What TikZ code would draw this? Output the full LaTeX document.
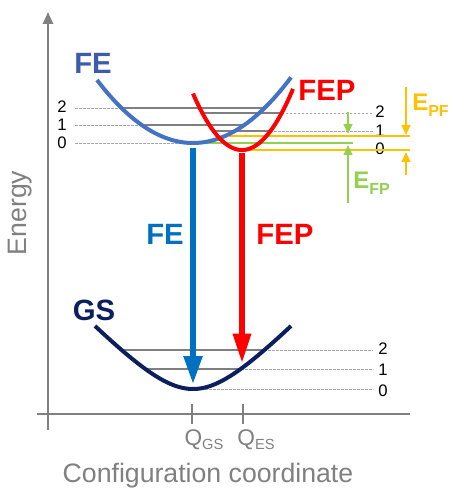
\documentclass[tikz,border=0pt]{standalone}
\usepackage{fontspec}
\setmainfont{Liberation Sans}
\usetikzlibrary{arrows.meta}
\definecolor{feblue}{HTML}{4472C4}
\definecolor{fetext}{HTML}{3C5DAA}
\definecolor{trblue}{HTML}{0070C0}
\definecolor{gsnavy}{HTML}{0B1F5E}
\definecolor{axgray}{HTML}{808080}
\definecolor{lvgray}{HTML}{7F7F7F}
\definecolor{dashgray}{HTML}{A6A6A6}
\definecolor{eorange}{HTML}{FFC000}
\definecolor{egreen}{HTML}{92D050}
\tikzset{
  axisline/.style={draw=axgray, line width=1.9pt},
  levelline/.style={draw=lvgray, line width=1.5pt},
  dashline/.style={draw=dashgray, line width=0.6pt, dash pattern=on 2pt off 1pt},
  curveline/.style={line width=3pt},
  lvlabel/.style={font=\fontsize{12.5}{12.5}\selectfont, text=black, inner sep=0pt},
  bigtext/.style={font=\fontsize{22}{22}\selectfont\bfseries, inner sep=0pt},
  bigarrow/.style={line width=4pt, -{Triangle[length=21pt,width=13.5pt]}},
  smallarrow/.style={line width=1.5pt, -{Triangle[length=7.5pt,width=6.5pt]}},
  axlabel/.style={font=\fontsize{20}{20}\selectfont, text=axgray, inner sep=0pt}
}
\begin{document}
\begin{tikzpicture}[x=0.75pt,y=-0.75pt]
\useasboundingbox (0,0) rectangle (452,488);

% axes
\coordinate (ybot) at (48,430);
\coordinate (ytop) at (48,12);
\coordinate (xl) at (37,414);
\coordinate (xr) at (410,414);
\draw[axisline, -{Triangle[length=9pt,width=7.5pt]}] (ybot) -- (ytop);
\draw[axisline] (xl) -- (xr);
\coordinate (tg1) at (192,404); \coordinate (tg2) at (192,424);
\coordinate (te1) at (243,404); \coordinate (te2) at (243,424);
\draw[axisline, line width=1.2pt] (tg1) -- (tg2);
\draw[axisline, line width=1.2pt] (te1) -- (te2);

% FE levels (left)
\draw[dashline] (75,108) -- (121.5,108);
\draw[dashline] (75,125) -- (141.7,125);
\draw[dashline] (75,143) -- (193,143);
\draw[levelline] (121.5,108) -- (264.5,108);
\draw[levelline] (141.7,125) -- (244.3,125);
\node[lvlabel] (l2) at (62,107) {2};
\node[lvlabel] (l1) at (62,125) {1};
\node[lvlabel] (l0) at (62,143) {0};

% FEP levels (right)
\draw[levelline] (202.3,113) -- (281.7,113);
\draw[levelline] (213.6,131) -- (270.4,131);
\draw[dashline] (281.7,113) -- (373,113);
\draw[dashline] (270.4,131) -- (373,131);
\node[lvlabel] (r2) at (380,112) {2};
\node[lvlabel] (r1) at (380,131) {1};
\node[lvlabel] (r0) at (380,149) {0};

% coloured energy lines
\draw[draw=egreen, line width=1.5pt] (193,143) -- (353,143);
\draw[draw=eorange, line width=1.5pt] (229,136) -- (410,136);
\draw[draw=eorange, line width=1.5pt] (243,150) -- (410,150);

% GS levels
\draw[levelline] (121.6,350) -- (264.4,350);
\draw[levelline] (145,369) -- (241,369);
\draw[dashline] (264.4,350) -- (373,350);
\draw[dashline] (241,369) -- (373,369);
\draw[dashline] (193,389) -- (373,389);
\node[lvlabel] (g2) at (383,349) {2};
\node[lvlabel] (g1) at (383,370) {1};
\node[lvlabel] (g0) at (383,391) {0};

% curves
\draw[feblue, curveline] plot[domain=97:291, samples=80] (\x, {143-0.00684*(\x-193)^2});
\draw[red, curveline] plot[domain=193:293, samples=80] (\x, {150-0.0235*(\x-242)^2});
\draw[gsnavy, curveline] plot[domain=95:291, samples=80] (\x, {389-1.05*(sqrt(2500+(\x-193)^2)-50)});

% curve labels
\node[bigtext, text=fetext] (felbl) at (93,63) {FE};
\node[bigtext, text=red] (feplbl) at (327,90.5) {FEP};
\node[bigtext, text=gsnavy] (gslbl) at (94,310) {GS};

% transitions
\coordinate (feA) at (193,148);
\coordinate (feB) at (193,384);
\coordinate (fepA) at (242,153);
\coordinate (fepB) at (242,363);
\draw[bigarrow, trblue] (feA) -- (feB);
\draw[bigarrow, red, -{Triangle[length=22pt,width=13pt]}] (fepA) -- (fepB);
\node[bigtext, text=trblue] (fetr) at (165,234) {FE};
\node[bigtext, text=red] (feptr) at (285,234) {FEP};

% E_FP arrows (green)
\coordinate (gA) at (348,112); \coordinate (gB) at (348,134);
\coordinate (gC) at (348,203); \coordinate (gD) at (348,145);
\draw[smallarrow, egreen] (gA) -- (gB);
\draw[smallarrow, egreen] (gC) -- (gD);
\node[anchor=base west, inner sep=0pt, text=egreen, font=\fontsize{18}{18}\selectfont\bfseries] (efp) at (353,189)
  {E\raisebox{-4.5pt}{\fontsize{12}{12}\selectfont FP}};

% E_PF arrows (orange)
\coordinate (oA) at (406,87); \coordinate (oB) at (406,135);
\coordinate (oC) at (406,175); \coordinate (oD) at (406,152);
\draw[smallarrow, eorange] (oA) -- (oB);
\draw[smallarrow, eorange] (oC) -- (oD);
\node[anchor=base west, inner sep=0pt, text=eorange, font=\fontsize{18}{18}\selectfont\bfseries] (epf) at (412,111)
  {E\raisebox{-4.5pt}{\fontsize{12}{12}\selectfont PF}};

% axis labels
\node[axlabel, rotate=90] (elab) at (20,213) {Energy};
\node[axlabel, anchor=base] (clab) at (208,482) {Configuration coordinate};
\node[anchor=base, inner sep=0pt, text=axgray, font=\fontsize{17}{17}\selectfont] (qgs) at (204,445)
  {Q\raisebox{-3pt}{\fontsize{11}{11}\selectfont GS}};
\node[anchor=base, inner sep=0pt, text=axgray, font=\fontsize{17}{17}\selectfont] (qes) at (256,445)
  {Q\raisebox{-3pt}{\fontsize{11}{11}\selectfont ES}};
\end{tikzpicture}
\end{document}
